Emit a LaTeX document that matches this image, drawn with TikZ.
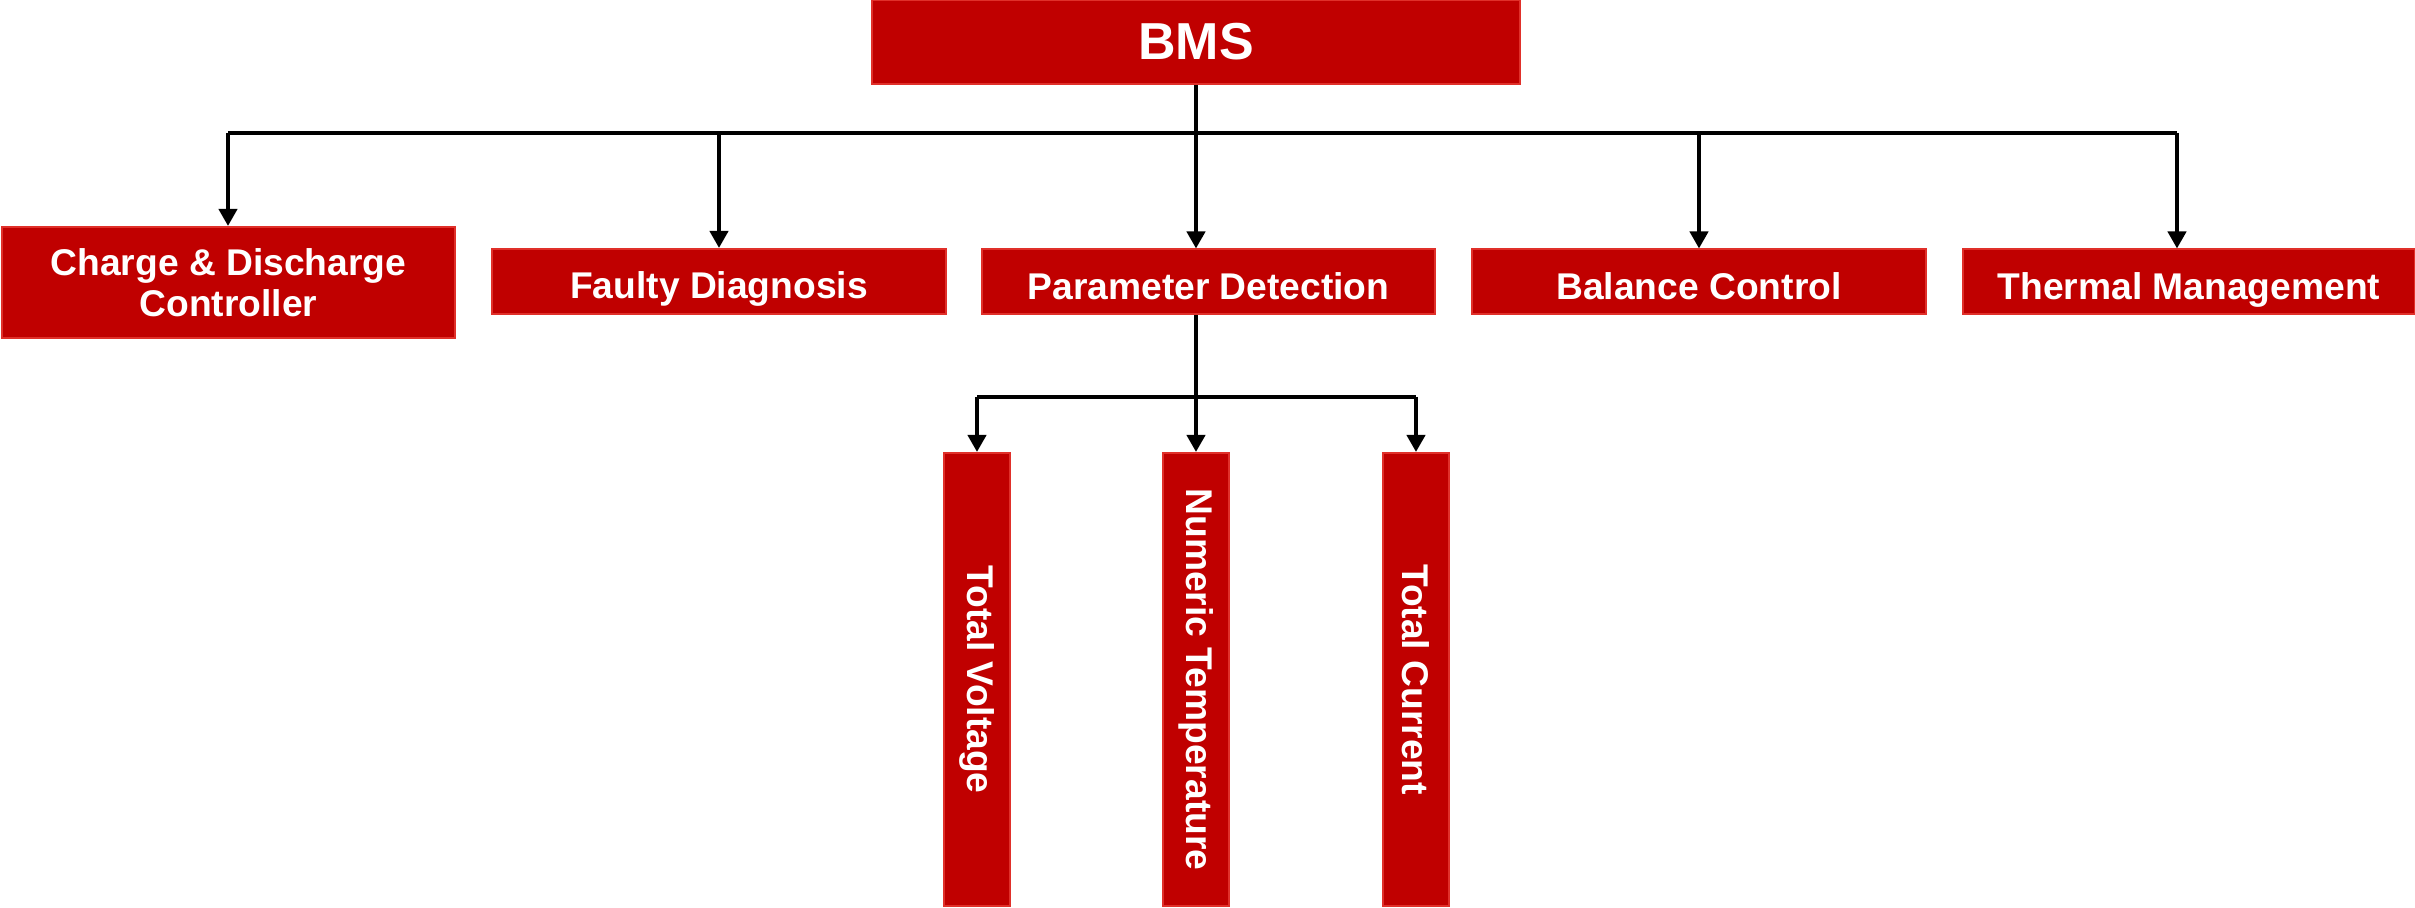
\documentclass[tikz,border=0pt]{standalone}
\usepackage{fontspec}
\usepackage{graphicx}
\setmainfont{Liberation Sans}
\usetikzlibrary{arrows.meta}
\definecolor{boxfill}{HTML}{C00000}
\definecolor{boxline}{HTML}{E0302A}
\tikzset{
  box/.style={draw=boxline, fill=boxfill, line width=1pt, inner sep=0pt,
    text=white, font=\fontsize{18.6pt}{21pt}\selectfont\bfseries, align=center},
  wide/.style={box, minimum height=32.5pt, text height=18pt, text depth=0.7pt},
  tall/.style={box, minimum width=33pt, minimum height=226.5pt},
  conn/.style={line width=2pt, black},
  arr/.style={conn, -{Triangle[length=8.5pt,width=9pt]}}
}
\begin{document}
\begin{tikzpicture}[x=0.5pt,y=-0.5pt]
\useasboundingbox (0,0) rectangle (2415,908);
\node[box, minimum width=324pt, minimum height=42pt, font=\fontsize{26pt}{30pt}\selectfont\bfseries] (bms) at (1196,42) {BMS};
\node[box, minimum width=226.5pt, minimum height=55.5pt] (charge) at (228.5,282.5) {Charge \& Discharge\\[-0.5pt]Controller};
\node[wide, minimum width=227pt] (faulty) at (719,281.5) {Faulty Diagnosis};
\node[wide, minimum width=226.5pt] (param) at (1208.5,282) {Parameter Detection};
\node[wide, minimum width=227pt] (balance) at (1699,282) {Balance Control};
\node[wide, minimum width=226pt] (thermal) at (2189,282) {Thermal Management};
\node[tall] (volt) at (977,679.5) {\rotatebox{-90}{Total Voltage}};
\node[tall] (temp) at (1196,679.5) {\rotatebox{-90}{Numeric Temperature}};
\node[tall] (curr) at (1416,679.5) {\rotatebox{-90}{Total Current}};
\coordinate (busL) at (228,133);
\coordinate (busR) at (2177,133);
\coordinate (sub) at (1196,397);
\draw[conn] (bms.south) -- (bms.south |- busL);
\draw[conn] (busL) -- (busR);
\draw[arr] (busL) -- (busL |- charge.north);
\draw[arr] (faulty.north |- busL) -- (faulty.north);
\draw[arr] (bms.south |- busL) -- (bms.south |- param.north);
\draw[arr] (balance.north |- busL) -- (balance.north);
\draw[arr] (busR) -- (busR |- thermal.north);
\draw[arr] (temp.north |- param.south) -- (temp.north);
\draw[conn] (volt.north |- sub) -- (curr.north |- sub);
\draw[arr] (volt.north |- sub) -- (volt.north);
\draw[arr] (curr.north |- sub) -- (curr.north);
\end{tikzpicture}
\end{document}
